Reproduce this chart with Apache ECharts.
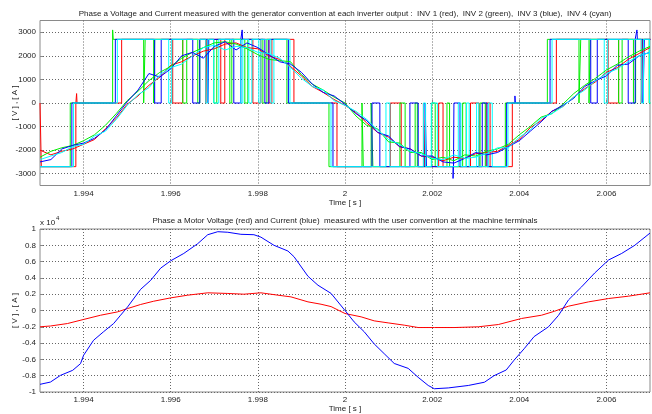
<!DOCTYPE html>
<html><head><meta charset="utf-8">
<script src="https://cdn.jsdelivr.net/npm/echarts@6/dist/echarts.min.js"></script>
<style>html,body{margin:0;padding:0;background:#fff}#c{width:652px;height:414px}</style>
</head><body><div id="c"></div>
<script>
// ---------- data ----------
const xTicks = [1.994, 1.996, 1.998, 2.000, 2.002, 2.004, 2.006];
const topYTicks = [-3000, -2000, -1000, 0, 1000, 2000, 3000];

// inverter output voltages: [time s, level V] (level holds until next point)
const inv1Voltage = [[1.99300,0],[1.99303,-2700],[1.993823,0],[1.993840,400],[1.993850,0],[1.994874,2700],[1.996046,0],[1.996276,2700],[1.996805,0],[1.996828,2700],[1.997149,0],[1.997241,2700],[1.997885,0],[1.998069,2700],[1.998253,0],[1.998322,2700],[1.998828,0],[1.999816,-2700],[2.001040,0],[2.001290,-2700],[2.001800,0],[2.001830,-2700],[2.002150,0],[2.002250,-2700],[2.002880,0],[2.003080,-2700],[2.003240,0],[2.003330,-2700],[2.003840,0],[2.004851,2700],[2.006040,0],[2.006280,2700],[2.006800,0],[2.006830,2700],[2.00701,2700]];
const inv2Voltage = [[1.99300,-2700],[1.993694,0],[1.994667,3100],[1.994680,2700],[1.995379,0],[1.995414,2700],[1.995609,0],[1.995632,2700],[1.996276,0],[1.996368,2700],[1.996621,0],[1.996667,2700],[1.996989,0],[1.997057,2700],[1.997356,0],[1.997402,2700],[1.997701,0],[1.997770,2700],[1.998115,0],[1.998207,2700],[1.998667,0],[1.999632,-2700],[2.000390,0],[2.000420,-2700],[2.000600,0],[2.000640,-2700],[2.001260,0],[2.001380,-2700],[2.001610,0],[2.001660,-2700],[2.001990,0],[2.002070,-2700],[2.002340,0],[2.002400,-2700],[2.002700,0],[2.002780,-2700],[2.003100,0],[2.003220,-2700],[2.003680,0],[2.004644,2700],[2.005370,0],[2.005410,2700],[2.005600,0],[2.005630,2700],[2.006280,0],[2.006360,2700],[2.006620,0],[2.006670,2700],[2.006980,0],[2.00701,0]];
const inv3Voltage = [[1.99300,-2700],[1.993731,0],[1.994729,2700],[1.995632,0],[1.995782,2700],[1.996506,0],[1.996667,2700],[1.996851,0],[1.996874,2700],[1.997448,0],[1.997609,2700],[1.997640,3100],[1.997650,2700],[1.998161,0],[1.998253,2700],[1.998701,0],[1.999724,-2700],[2.000620,0],[2.000800,-2700],[2.001490,0],[2.001680,-2700],[2.001840,0],[2.001870,-2700],[2.002480,-3200],[2.002490,-2700],[2.002500,0],[2.002640,-2700],[2.003150,0],[2.003260,-2700],[2.003710,0],[2.003900,300],[2.003910,0],[2.004706,2700],[2.005640,0],[2.005790,2700],[2.006500,0],[2.006660,2700],[2.006700,3100],[2.006710,2700],[2.006840,0],[2.006870,2700],[2.00701,2700]];
const inv4Voltage = [[1.99300,-2700],[1.993770,0],[1.994775,2700],[1.995954,0],[1.996023,2700],[1.996805,0],[1.996851,2700],[1.996989,0],[1.997103,2700],[1.997609,0],[1.997655,2700],[1.997793,0],[1.997862,2700],[1.998023,0],[1.998069,2700],[1.998299,0],[1.998368,2700],[1.998736,0],[1.999678,-2700],[2.000940,0],[2.001030,-2700],[2.001800,0],[2.001850,-2700],[2.001980,0],[2.002120,-2700],[2.002600,0],[2.002660,-2700],[2.002790,0],[2.002850,-2700],[2.003020,0],[2.003070,-2700],[2.003290,0],[2.003380,-2700],[2.003740,0],[2.004752,2700],[2.005950,0],[2.006030,2700],[2.006800,0],[2.006850,2700],[2.006990,0],[2.00701,0]];

// inverter currents sampled at these times
const currentTimes = [1.99300,1.99325,1.99350,1.99375,1.99400,1.99425,1.99450,1.99475,1.99500,1.99525,1.99550,1.99575,1.99600,1.99625,1.99650,1.99675,1.99700,1.99725,1.99750,1.99775,1.99800,1.99825,1.99850,1.99875,1.99900,1.99925,1.99950,1.99975,2.00000,2.00025,2.00050,2.00075,2.00100,2.00125,2.00150,2.00175,2.00200,2.00225,2.00250,2.00275,2.00300,2.00325,2.00350,2.00375,2.00400,2.00425,2.00450,2.00475,2.00500,2.00525,2.00550,2.00575,2.00600,2.00625,2.00650,2.00675,2.00700];
const inv1Current = [-2000,-2200,-2050,-1950,-1750,-1550,-1100,-650,-50,300, 750,1100,1600,1750,2000,2200,2300,2500,2550,2350, 2300,2000,1850,1550,1150,700,450,150,-100,-400, -850,-1250,-1450,-1850,-1950,-2250,-2300,-2450,-2300,-2350, -2150,-2100,-2050,-1800,-1550,-1050,-750,-350,-150,250, 600,900,1300,1500,1850,2100,2350];
const inv2Current = [-2300,-2050,-1900,-1800,-1600,-1350,-950,-450,100,500, 950,1300,1550,1900,2150,2350,2550,2600,2500,2300, 2050,1850,1800,1750,1200,800,550,250,0,-550, -950,-1100,-1650,-1700,-2100,-2100,-2400,-2300,-2450,-2200, -2250,-2050,-1950,-1750,-1350,-1000,-600,-450,-50,400, 750,1050,1400,1650,1950,2200,2400];
const inv3Current = [-2500,-2400,-1950,-1800,-1700,-1500,-1150,-550,50,550, 1250,1100,1450,2000,2150,1900,2400,2600,2250,2550, 2350,2050,1750,1650,1300,800,450,300,-50,-450, -750,-1250,-1400,-1850,-1950,-2250,-2250,-2500,-2550,-2350, -2100,-2200,-2100,-1850,-1600,-1200,-800,-350,-100,200, 700,950,1150,1600,1650,2000,2150];
const inv4Current = [-2400,-2250,-2100,-1850,-1750,-1400,-1200,-700,-100,350, 650,1200,1500,1650,2000,2350,2450,2250,2400,2350, 2150,2100,1900,1500,1050,700,550,100,-100,-350, -700,-1150,-1550,-1750,-2050,-2150,-2350,-2400,-2200,-2350, -2300,-2150,-1900,-1900,-1450,-1150,-650,-450,-150,250, 550,950,1250,1450,1750,2000,2150];

// motor terminals: [time s, value]
const motorVoltage = [[1.99300,-2000],[1.99324,-1900],[1.99363,-1600],[1.99400,-1100],[1.99439,-580],[1.99478,-170],[1.99501,240],[1.99531,740],[1.99561,1140],[1.99600,1550],[1.99639,1880],[1.99685,2170],[1.99731,2090],[1.99768,2000],[1.99807,2170],[1.99846,1880],[1.99876,1670],[1.99915,1060],[1.99945,770],[1.99968,480],[2.00000,-370],[2.00037,-780],[2.00067,-1270],[2.00099,-1520],[2.00136,-1800],[2.00168,-2090],[2.00205,-2090],[2.00251,-2090],[2.00306,-2000],[2.00352,-1720],[2.00405,-980],[2.00451,-580],[2.00481,-90],[2.00513,530],[2.00559,1060],[2.00605,1470],[2.00651,1760],[2.00700,2170]];
const motorCurrent = [[1.99300,-9060],[1.99324,-8780],[1.99347,-7960],[1.99375,-7340],[1.99393,-6520],[1.99400,-5500],[1.99423,-3650],[1.99446,-2600],[1.99469,-1600],[1.99485,-580],[1.99501,440],[1.99531,2600],[1.99554,3700],[1.99577,5200],[1.99600,6100],[1.99630,7000],[1.99662,8200],[1.99685,9300],[1.99708,9670],[1.99731,9600],[1.99761,9350],[1.99791,9300],[1.99807,9000],[1.99837,8000],[1.99869,7300],[1.99883,6600],[1.99915,4200],[1.99938,3100],[1.99968,2100],[2.00000,0],[2.00021,-1400],[2.00044,-2600],[2.00067,-4100],[2.00090,-5300],[2.00113,-6500],[2.00145,-7100],[2.00168,-8200],[2.00191,-9200],[2.00205,-9600],[2.00237,-9500],[2.00283,-9200],[2.00320,-8800],[2.00342,-8000],[2.00370,-7300],[2.00388,-6100],[2.00411,-4700],[2.00434,-3200],[2.00467,-2000],[2.00490,-600],[2.00513,1300],[2.00543,2900],[2.00573,4600],[2.00605,6200],[2.00635,7000],[2.00665,8000],[2.00700,9500]];

// ---------- chart ----------
const FF = 'Liberation Sans, Arial, sans-serif';
const TXT = '#222';
const COLORS = {red:'#ff0000', green:'#00ee00', blue:'#0000ff', cyan:'#00ffff'};

function xAxisCfg(gi){
  return {
    type:'value', gridIndex:gi, min:1.993, max:2.007,
    axisLine:{show:false},
    axisTick:{show:true, inside:true, length:3, customValues:xTicks, lineStyle:{color:'#888'}},
    axisLabel:{customValues:xTicks, formatter:v=>String(+(+v).toFixed(3)), fontSize:8, color:TXT, margin:4, fontFamily:FF},
    splitLine:{show:true, lineStyle:{color:'#666', type:[1,2], width:1}},
    name:'Time [ s ]', nameLocation:'middle', nameGap:13, nameMoveOverlap:false,
    nameTextStyle:{fontSize:8, color:TXT, fontFamily:FF}
  };
}
function yAxisCfg(gi, extra){
  return Object.assign({
    type:'value', gridIndex:gi,
    axisLine:{show:false},
    axisTick:{show:true, inside:true, length:3, lineStyle:{color:'#888'}},
    axisLabel:{fontSize:8, color:TXT, margin:4, fontFamily:FF},
    splitLine:{show:true, lineStyle:{color:'#666', type:[1,2], width:1}},
    name:'[ V ] , [ A ]', nameLocation:'middle', nameGap:21, nameMoveOverlap:false,
    nameTextStyle:{fontSize:8, color:TXT, fontFamily:FF}
  }, extra);
}
function line(data, color, gi, step){
  return {type:'line', xAxisIndex:gi, yAxisIndex:gi, data, step:step||false, showSymbol:false, symbol:'none',
    lineStyle:{color, width:1}, itemStyle:{color}, animation:false, silent:true};
}
const pairs = arr => currentTimes.map((t,i)=>[t, arr[i]]);

const option = {
  backgroundColor:'#fff',
  animation:false,
  grid:[
    {left:40, top:20.5, width:610, height:165, containLabel:false, outerBoundsMode:'none', show:true, borderColor:'#8a8a8a', borderWidth:1, backgroundColor:'#fff'},
    {left:40, top:229, width:610, height:163, containLabel:false, outerBoundsMode:'none', show:true, borderColor:'#8a8a8a', borderWidth:1, backgroundColor:'#fff'}
  ],
  xAxis:[xAxisCfg(0), xAxisCfg(1)],
  yAxis:[
    yAxisCfg(0, {min:-3500, max:3500,
      axisTick:{show:true, inside:true, length:3, customValues:topYTicks, lineStyle:{color:'#888'}},
      axisLabel:{customValues:topYTicks, fontSize:8, color:TXT, margin:4, fontFamily:FF, formatter:v=>String(v)}}),
    yAxisCfg(1, {min:-10000, max:10000, interval:2000,
      axisLabel:{fontSize:8, color:TXT, margin:4, fontFamily:FF, formatter:v=>String(+(v/10000).toFixed(1))}})
  ],
  series:[
    line(inv1Voltage, COLORS.red, 0, 'end'),
    line(inv2Voltage, COLORS.green, 0, 'end'),
    line(inv3Voltage, COLORS.blue, 0, 'end'),
    line(inv4Voltage, COLORS.cyan, 0, 'end'),
    line(pairs(inv1Current), COLORS.red, 0),
    line(pairs(inv2Current), COLORS.green, 0),
    line(pairs(inv3Current), COLORS.blue, 0),
    line(pairs(inv4Current), COLORS.cyan, 0),
    line(motorVoltage, COLORS.red, 1),
    line(motorCurrent, COLORS.blue, 1)
  ],
  graphic:[
    {type:'text', x:345, y:14, style:{text:'Phase a Voltage and Current measured with the generator convention at each inverter output :  INV 1 (red),  INV 2 (green),  INV 3 (blue),  INV 4 (cyan)', align:'center', verticalAlign:'middle', font:'8px '+FF, fill:TXT}},
    {type:'text', x:345, y:221, style:{text:'Phase a Motor Voltage (red) and Current (blue)  measured with the user convention at the machine terminals', align:'center', verticalAlign:'middle', font:'8px '+FF, fill:TXT}},
    {type:'text', x:40, y:223, style:{text:'x 10', align:'left', verticalAlign:'middle', font:'8px '+FF, fill:TXT}},
    {type:'text', x:56, y:218, style:{text:'4', align:'left', verticalAlign:'middle', font:'6px '+FF, fill:TXT}}
  ]
};
const chart = echarts.init(document.getElementById('c'), null, {renderer:'canvas', width:652, height:414});
chart.setOption(option);
</script></body></html>
